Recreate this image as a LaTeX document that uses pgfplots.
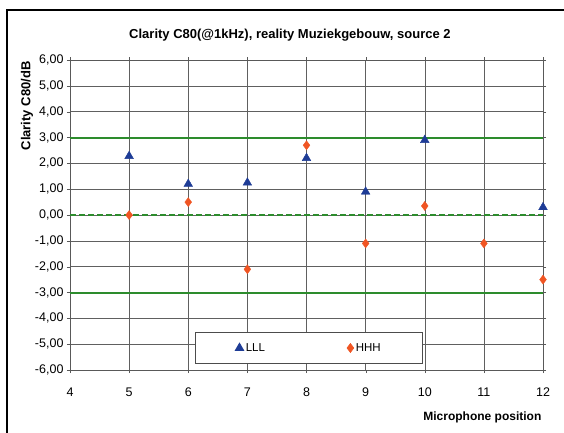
\documentclass[border=0pt]{standalone}
\usepackage{fontspec}
\setmainfont{Liberation Sans}
\usepackage{pgfplots}
\pgfplotsset{compat=1.18}

\definecolor{lllblue}{RGB}{30,60,150}
\definecolor{hhhorange}{RGB}{240,85,35}
\definecolor{limgreen}{RGB}{45,140,45}

\begin{document}
\begin{tikzpicture}
% page = scanned sheet, 564 x 432 units, axis corner at (0,0)
\useasboundingbox (-70pt,-62pt) rectangle (494pt,370pt);
\draw[line width=2pt] (-63pt,-80pt) -- (-63pt,360pt) -- (520pt,360pt);
\begin{axis}[
    at={(0pt,0pt)}, anchor=south west,
    scale only axis, width=473pt, height=310pt,
    xmin=4, xmax=12, ymin=-6, ymax=6,
    xtick={4,...,12}, ytick={-6,-5,...,6},
    grid=major,
    major grid style={gray!75!black, line width=0.5pt},
    axis line style={gray!70!black, line width=0.6pt},
    tick style={gray!70!black},
    tick align=outside, major tick length=3pt,
    /pgf/number format/assume math mode=true,
    ticklabel style={font=\fontsize{12.5}{14}\selectfont},
    yticklabel style={/pgf/number format/.cd, fixed, fixed zerofill, precision=2, use comma},
    xticklabel style={yshift=-11pt},
    title={Clarity C80(@1kHz), reality Muziekgebouw, source 2},
    title style={at={(axis description cs:0.465,1.061)}, anchor=center,
        font=\bfseries\fontsize{13}{15}\selectfont},
    xlabel={Microphone position},
    xlabel style={at={(axis description cs:1.004,-0.152)}, anchor=east,
        font=\bfseries\fontsize{12}{14}\selectfont},
    ylabel={Clarity C80/dB},
    ylabel style={at={(axis description cs:-0.091,0.852)}, anchor=center,
        font=\bfseries\fontsize{13}{15}\selectfont},
    legend columns=2,
    legend style={at={(axis description cs:0.264,0.1226)}, anchor=north west,
        draw=gray!60!black, line width=0.6pt,
        inner xsep=40pt, inner ysep=9pt,
        font=\fontsize{11.5}{13}\selectfont,
        /tikz/every even column/.append style={column sep=80pt}},
]
  % limit lines
  \addplot[limgreen, line width=2pt, forget plot] coordinates {(4,3) (12,3)};
  \addplot[limgreen, line width=2pt, forget plot] coordinates {(4,-3) (12,-3)};
  \addplot[limgreen, line width=1.6pt, dash pattern=on 6pt off 3pt, forget plot] coordinates {(4,0) (12,0)};

  \addplot[only marks, mark=triangle*, mark size=5pt, color=lllblue] coordinates {
    (5,2.28) (6,1.2) (7,1.25) (8,2.2) (9,0.9) (10,2.9) (12,0.3)
  };
  \addlegendentry{LLL}
  \addplot[only marks, mark=diamond*, mark size=4.5pt, color=hhhorange] coordinates {
    (5,0.0) (6,0.5) (7,-2.1) (8,2.7) (9,-1.1) (10,0.35) (11,-1.1) (12,-2.5)
  };
  \addlegendentry{HHH}
\end{axis}
\end{tikzpicture}
\end{document}
